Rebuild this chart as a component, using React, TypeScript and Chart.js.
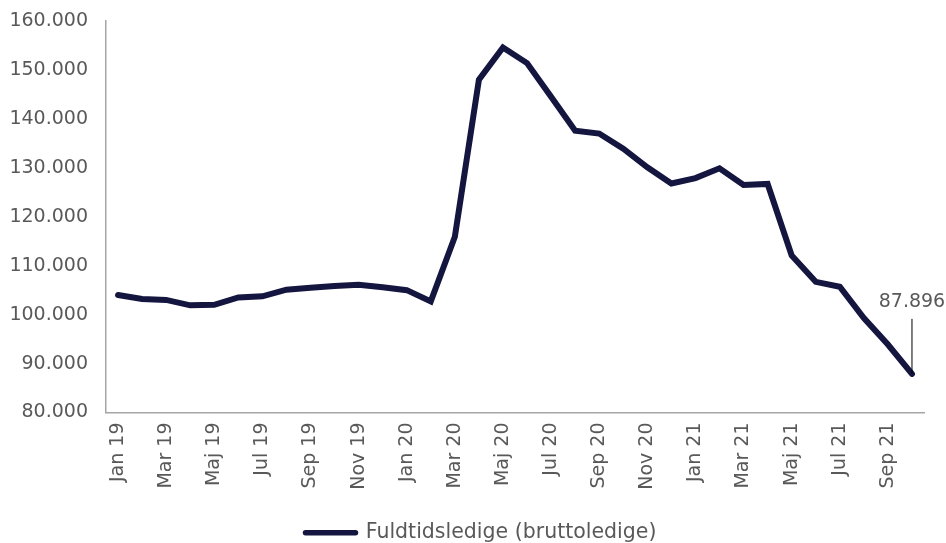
import React, { useEffect, useRef } from "react";
import { Chart, registerables } from "chart.js";

Chart.register(...registerables);

const months: string[] = [
  "Jan 19", "Feb 19", "Mar 19", "Apr 19", "Maj 19", "Jun 19", "Jul 19", "Aug 19", "Sep 19", "Okt 19", "Nov 19", "Dec 19",
  "Jan 20", "Feb 20", "Mar 20", "Apr 20", "Maj 20", "Jun 20", "Jul 20", "Aug 20", "Sep 20", "Okt 20", "Nov 20", "Dec 20",
  "Jan 21", "Feb 21", "Mar 21", "Apr 21", "Maj 21", "Jun 21", "Jul 21", "Aug 21", "Sep 21", "Okt 21",
];

const fuldtidsledige: number[] = [
  104000, 103200, 103000, 101900, 102000, 103500, 103750, 105100, 105500, 105850, 106100, 105600,
  105000, 102700, 115900, 148000, 154600, 151400, 144500, 137600, 137000, 133900, 130100, 126800,
  127900, 129900, 126500, 126700, 112100, 106700, 105700, 99300, 93900, 87896,
];

const seriesName = "Fuldtidsledige (bruttoledige)";
const yMin = 80000;
const yMax = 160000;
const yStep = 10000;
const annotatedIndex = 33;
const annotatedLabel = "87.896";

const FONT = "'DejaVu Sans', sans-serif";
const TEXT = "#595959";
const LINE = "#14163F";
const AXIS = "#A6A6A6";

const fmt = (v: number) => v.toLocaleString("da-DK").replace(/,/g, ".");

const annotationPlugin = {
  id: "lastLabel",
  afterDatasetsDraw(chart: any) {
    const meta = chart.getDatasetMeta(0);
    const pt = meta.data[annotatedIndex];
    if (!pt) return;
    const ctx = chart.ctx;
    ctx.save();
    ctx.strokeStyle = "#000000";
    ctx.lineWidth = 1;
    ctx.beginPath();
    ctx.moveTo(pt.x, pt.y);
    ctx.lineTo(pt.x, pt.y - 55);
    ctx.stroke();
    ctx.fillStyle = TEXT;
    ctx.font = `19px ${FONT}`;
    ctx.textAlign = "center";
    ctx.textBaseline = "middle";
    ctx.fillText(annotatedLabel, pt.x, pt.y - 72);
    ctx.restore();
  },
};

const LEGEND_PAD = 4;

const legendPlace = {
  id: "legendPlace",
  afterLayout(chart: any) {
    const lg = chart.legend;
    if (lg) {
      const w = lg.right - lg.left;
      lg.left = 305.5 - LEGEND_PAD;
      lg.right = lg.left + w;
      lg.top += 10;
      lg.bottom += 10;
    }
  },
};

export default function App() {
  const ref = useRef<HTMLCanvasElement | null>(null);

  useEffect(() => {
    if (!ref.current) return;
    const chart = new Chart(ref.current, {
      type: "line",
      data: {
        labels: months,
        datasets: [
          {
            label: seriesName,
            data: fuldtidsledige,
            borderColor: LINE,
            backgroundColor: LINE,
            borderWidth: 6,
            borderCapStyle: "round",
            pointRadius: 0,
            tension: 0,
            fill: false,
          },
        ],
      },
      options: {
        responsive: true,
        maintainAspectRatio: false,
        animation: false,
        layout: { padding: { left: 0, right: 22, top: 21, bottom: 0 } },
        plugins: {
          tooltip: { enabled: false },
          legend: {
            position: "bottom",
            align: "start",
            labels: {
              font: { family: FONT, size: 20.5 },
              color: TEXT,
              usePointStyle: true,
              pointStyle: "line",
              pointStyleWidth: 50,
              padding: LEGEND_PAD,
              generateLabels: (c: any) =>
                c.data.datasets.map((ds: any, i: number) => ({
                  text: ds.label,
                  fillStyle: LINE,
                  strokeStyle: LINE,
                  lineWidth: 5.5,
                  lineCap: "round",
                  pointStyle: "line",
                  fontColor: TEXT,
                  datasetIndex: i,
                  hidden: false,
                })),
            },
          },
        },
        scales: {
          x: {
            offset: true,
            grid: { display: false, drawTicks: false },
            border: { display: true, color: AXIS, width: 1.5 },
            afterFit: (s: any) => {
              s.height = 96;
            },
            ticks: {
              autoSkip: false,
              maxRotation: 90,
              minRotation: 90,
              padding: 10,
              color: TEXT,
              font: { family: FONT, size: 19 },
              callback: (_v: any, i: number) => (i % 2 === 0 ? months[i] : ""),
            },
          },
          y: {
            min: yMin,
            max: yMax,
            grid: { display: false, drawTicks: false },
            border: { display: true, color: AXIS, width: 1.5 },
            afterFit: (s: any) => {
              s.width = 106;
              s.paddingTop = 0;
              s.paddingBottom = 0;
            },
            ticks: {
              stepSize: yStep,
              padding: 18,
              color: TEXT,
              font: { family: FONT, size: 19 },
              callback: (v: any) => fmt(Number(v)),
            },
          },
        },
      },
      plugins: [annotationPlugin, legendPlace],
    });
    return () => chart.destroy();
  }, []);

  return (
    <div style={{ position: "fixed", left: 0, top: 0, width: 946, height: 543, background: "#fff" }}>
      <canvas ref={ref} />
    </div>
  );
}
